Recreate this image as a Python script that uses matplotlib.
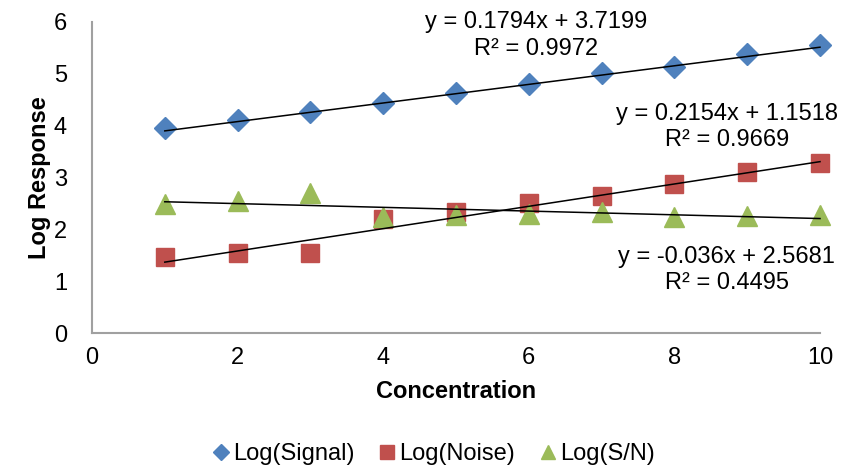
import numpy as np
import matplotlib
matplotlib.use('Agg')
import matplotlib.pyplot as plt

plt.rcParams['font.family'] = ['Liberation Sans', 'DejaVu Sans']

# Data
concentration = [1, 2, 3, 4, 5, 6, 7, 8, 9, 10]
log_signal = [3.96, 4.10, 4.26, 4.43, 4.63, 4.81, 5.01, 5.13, 5.38, 5.56]
log_noise = [1.46, 1.54, 1.54, 2.20, 2.34, 2.50, 2.65, 2.87, 3.10, 3.28]
log_sn = [2.48, 2.55, 2.71, 2.23, 2.28, 2.29, 2.33, 2.24, 2.26, 2.27]

# Trendline coefficients shown on the chart
slopes = [0.1794, 0.2154, -0.036]
intercepts = [3.7199, 1.1518, 2.5681]
r_squared = ['0.9972', '0.9669', '0.4495']

fig = plt.figure(figsize=(8.62, 4.74), dpi=100)
ax = fig.add_axes([92 / 862, 1 - 333 / 474, (820 - 92) / 862, (333 - 22) / 474])

ax.plot(concentration, log_signal, 'D', color='#4F81BD', markersize=11, label='Log(Signal)',
        zorder=3, clip_on=False)
ax.plot(concentration, log_noise, 's', color='#C0504D', markersize=13, label='Log(Noise)',
        zorder=3, clip_on=False)
ax.plot(concentration, log_sn, '^', color='#9BBB59', markersize=14, label='Log(S/N)',
        zorder=3, clip_on=False)

# Linear trendlines
xs = np.array([concentration[0], concentration[-1]])
for m, b in zip(slopes, intercepts):
    ax.plot(xs, m * xs + b, color='black', linewidth=1.1, zorder=4, clip_on=False)

# Trendline equations
label_pos = [(6.1, 5.74), (8.72, 3.98), (8.72, 1.22)]
for (tx, ty), m, b, r2 in zip(label_pos, slopes, intercepts, r_squared):
    sign = '+' if b >= 0 else '-'
    ax.text(tx, ty, f'y = {m:g}x {sign} {abs(b):.4f}\nR² = {r2}', ha='center', va='center',
            fontsize=17, linespacing=1.24, clip_on=False)

ax.set_xlim(0, 10)
ax.set_ylim(0, 6)
ax.set_xticks(range(0, 11, 2))
ax.set_yticks(range(0, 7))
ax.tick_params(length=0, labelsize=17, pad=10)
ax.tick_params(axis='y', pad=18)
for side in ['top', 'right']:
    ax.spines[side].set_visible(False)
for side in ['left', 'bottom']:
    ax.spines[side].set_color('#A0A0A0')
    ax.spines[side].set_linewidth(1.5)

ax.set_xlabel('Concentration', fontsize=17, fontweight='bold', labelpad=8)
ax.set_ylabel('Log Response', fontsize=17, fontweight='bold', labelpad=2)

fig.legend(loc='center', bbox_to_anchor=(433 / 862, 1 - 454 / 474), ncol=3, frameon=False,
           fontsize=17, handletextpad=0.1, columnspacing=1.0, markerscale=0.75,
           handlelength=0.8)

fig.savefig('out.png', dpi=100)
